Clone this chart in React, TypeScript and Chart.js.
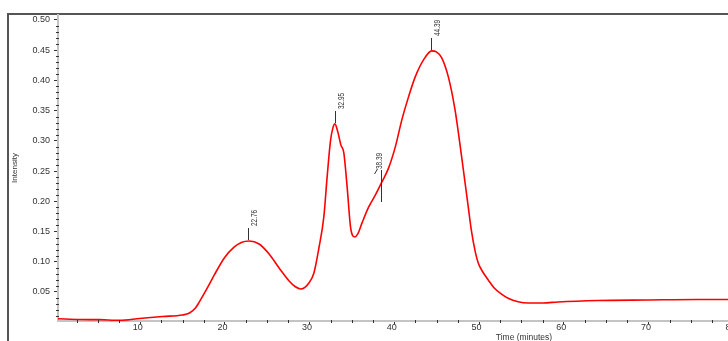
import { useEffect, useRef } from "react";
import { Chart, registerables } from "chart.js";

Chart.register(...registerables);

// Chromatogram trace (time in minutes, intensity)
const times = [
  0.29, 2.88, 5.23, 7.58, 9.94, 12.64, 14.99, 15.82, 16.52, 17.0, 17.58, 18.17, 18.75, 19.93,
  21.11, 21.93, 22.87, 24.04, 25.22, 26.4, 27.58, 28.28, 28.98, 29.92, 30.51, 31.1, 31.68,
  32.07, 32.48, 32.75, 32.98, 33.33, 33.69, 34.04, 34.43, 34.83, 35.1, 35.33, 35.69, 36.19,
  36.98, 37.77, 38.54, 39.33, 40.12, 40.89, 41.68, 42.47, 43.45, 44.42, 44.97, 45.6, 46.38,
  47.17, 47.95, 48.73, 49.09, 49.56, 49.91, 50.38, 51.09, 51.8, 52.62, 53.44, 54.62, 55.8,
  57.55, 59.32, 64.02, 69.86, 75.78, 79.07, 80.5,
];
const intensity = [
  0.0058, 0.0045, 0.0042, 0.0032, 0.0062, 0.0095, 0.0119, 0.0152, 0.0235, 0.034, 0.048,
  0.063, 0.0781, 0.1063, 0.1245, 0.1319, 0.1344, 0.1294, 0.1129, 0.0897, 0.0682, 0.0591,
  0.055, 0.0649, 0.0814, 0.1228, 0.1741, 0.2403, 0.3015, 0.3213, 0.3279, 0.3147, 0.2932,
  0.28, 0.2237, 0.1575, 0.1427, 0.141, 0.146, 0.1642, 0.1906, 0.2105, 0.232, 0.2552, 0.2899,
  0.3346, 0.3726, 0.4057, 0.4338, 0.4487, 0.4471, 0.4372, 0.4057, 0.3511, 0.2734, 0.1906,
  0.1526, 0.1162, 0.098, 0.0847, 0.0699, 0.0566, 0.0467, 0.0395, 0.0338, 0.0318, 0.0318,
  0.0335, 0.0359, 0.0368, 0.0376, 0.0376, 0.0375,
];

const yTickValues = [0.05, 0.1, 0.15, 0.2, 0.25, 0.3, 0.35, 0.4, 0.45, 0.5];
const xTickValues = [10, 20, 30, 40, 50, 60, 70, 80];

const peakTimes = [22.76, 32.95, 38.39, 44.39];
const peakHeights = [0.134, 0.328, 0.232, 0.449];
const peakLabels = ["22.76", "32.95", "38.39", "44.39"];
const peakKinds = ["apex", "apex", "shoulder", "apex"];

const W = 990;
const H = 345;
const FONT = "'Liberation Sans', Arial, sans-serif";

export default function App() {
  const ref = useRef<HTMLCanvasElement>(null);

  useEffect(() => {
    const canvas = ref.current!;

    const framePlugin = {
      id: "frame",
      beforeDraw(chart: any) {
        const ctx = chart.ctx;
        ctx.save();
        ctx.fillStyle = "#ffffff";
        ctx.fillRect(0, 0, W, H);
        ctx.fillStyle = "#555555";
        ctx.fillRect(7, 13, 2, H);
        ctx.fillRect(7, 13, W, 2);
        ctx.restore();
      },
    };

    const minorPlugin = {
      id: "minor",
      afterDraw(chart: any) {
        const { ctx, chartArea } = chart;
        const x = chart.scales.x;
        const y = chart.scales.y;
        ctx.save();
        ctx.fillStyle = "#333333";
        for (let i = 1; i <= 50; i++) {
          if (i % 5 === 0) continue;
          const py = Math.round(y.getPixelForValue(i / 100));
          ctx.fillRect(chartArea.left - 2, py, 3, 1);
        }
        for (let i = 1; i * 2.5 < x.max; i++) {
          if (i % 4 === 0) continue;
          const px = Math.round(x.getPixelForValue(i * 2.5));
          ctx.fillRect(px, chartArea.bottom - 1, 1, 3);
        }
        ctx.restore();
      },
    };

    const peakPlugin = {
      id: "peaks",
      afterDatasetsDraw(chart: any) {
        const { ctx } = chart;
        const x = chart.scales.x;
        const y = chart.scales.y;
        ctx.save();
        ctx.strokeStyle = "#333333";
        ctx.fillStyle = "#333333";
        ctx.lineWidth = 1;
        ctx.font = `9px ${FONT}`;
        ctx.textAlign = "left";
        ctx.textBaseline = "middle";
        peakTimes.forEach((t, i) => {
          const px = Math.round(x.getPixelForValue(t)) + 0.5;
          const py = Math.round(y.getPixelForValue(peakHeights[i]));
          let tx: number, ty: number;
          if (peakKinds[i] === "apex") {
            ctx.beginPath();
            ctx.moveTo(px, py - 1);
            ctx.lineTo(px, py - 13);
            ctx.stroke();
            tx = px + 6.5;
            ty = py - 15;
          } else {
            ctx.beginPath();
            ctx.moveTo(px, py - 12);
            ctx.lineTo(px, py + 20);
            ctx.stroke();
            ctx.beginPath();
            ctx.moveTo(px - 7, py - 8);
            ctx.lineTo(px - 4, py - 13);
            ctx.stroke();
            tx = px - 2;
            ty = py - 13;
          }
          ctx.save();
          ctx.translate(tx, ty);
          ctx.rotate(-Math.PI / 2);
          ctx.scale(0.72, 1);
          ctx.fillText(peakLabels[i], 0, 0);
          ctx.restore();
        });
        ctx.restore();
      },
    };

    const chart = new Chart(canvas, {
      type: "line",
      data: {
        datasets: [
          {
            data: times.map((t, i) => ({ x: t, y: intensity[i] })),
            borderColor: "#ff0000",
            borderWidth: 1.6,
            pointRadius: 0,
            tension: 0.4,
            cubicInterpolationMode: "monotone",
            fill: false,
          },
        ],
      },
      options: {
        animation: false,
        responsive: false,
        devicePixelRatio: 1,
        layout: { padding: { top: 15, left: 0, right: 0, bottom: 0 } },
        plugins: { legend: { display: false }, tooltip: { enabled: false } },
        scales: {
          x: {
            type: "linear",
            min: 0.295,
            max: 110.33,
            afterBuildTicks: (s: any) => {
              s.ticks = xTickValues.map((v) => ({ value: v }));
            },
            afterFit: (s: any) => {
              s.height = 24;
            },
            grid: { drawOnChartArea: false, tickLength: 3, tickColor: "#333333" },
            border: { color: "#c4c4c4", width: 2 },
            ticks: {
              font: { family: FONT, size: 9 },
              color: "#333333",
              padding: -2,
              labelOffset: -2.5,
              maxRotation: 0,
              autoSkip: false,
              callback: (v: any) => String(v),
            },
            title: {
              display: true,
              text: "Time (minutes)",
              font: { family: FONT, size: 8.5 },
              color: "#333333",
              padding: { top: 0, bottom: 2 },
            },
          },
          y: {
            min: 0.002,
            max: 0.508,
            afterBuildTicks: (s: any) => {
              s.ticks = yTickValues.map((v) => ({ value: v }));
            },
            afterFit: (s: any) => {
              s.width = 58;
            },
            grid: { drawOnChartArea: false, tickLength: 4, tickColor: "#333333" },
            border: { color: "#c4c4c4", width: 2 },
            ticks: {
              font: { family: FONT, size: 9 },
              color: "#333333",
              padding: 4,
              callback: (v: any) => Number(v).toFixed(2),
            },
            title: {
              display: true,
              text: "Intensity",
              font: { family: FONT, size: 8 },
              color: "#333333",
              padding: { top: 10, bottom: 0 },
            },
          },
        },
      },
      plugins: [framePlugin, minorPlugin, peakPlugin],
    } as any);

    return () => chart.destroy();
  }, []);

  return (
    <div
      style={{
        position: "fixed",
        left: 0,
        top: 0,
        width: 728,
        height: 341,
        overflow: "hidden",
        background: "#ffffff",
      }}
    >
      <canvas ref={ref} width={W} height={H} style={{ display: "block", width: W, height: H }} />
    </div>
  );
}
